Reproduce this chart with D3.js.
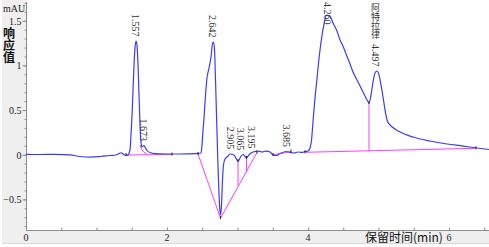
<!DOCTYPE html>
<html>
<head>
<meta charset="utf-8">
<script src="https://cdn.jsdelivr.net/npm/d3@7/dist/d3.min.js"></script>
<style>
  html, body { margin: 0; padding: 0; background: #fff; overflow: hidden; }
  svg { display: block; }
</style>
</head>
<body>
<svg id="chart" width="489" height="247"></svg>
<script>
// Chromatogram trace (retention time in min, response in mAU)
const traceTime = [
  0.000, 0.199, 0.411, 0.624, 0.766, 0.908, 1.050, 1.191, 1.277, 1.319, 1.348, 1.376, 1.418, 1.447,
  1.475, 1.489, 1.504, 1.518, 1.532, 1.546, 1.560, 1.574, 1.589, 1.603, 1.617, 1.631, 1.645, 1.660,
  1.674, 1.688, 1.716, 1.759, 1.830, 1.972, 2.184, 2.411, 2.482, 2.496, 2.511, 2.525, 2.546, 2.567,
  2.596, 2.624, 2.645, 2.660, 2.674, 2.688, 2.702, 2.716, 2.730, 2.745, 2.759, 2.773, 2.787, 2.801,
  2.823, 2.851, 2.894, 2.950, 3.007, 3.050, 3.078, 3.106, 3.128, 3.149, 3.191, 3.248, 3.291, 3.348,
  3.404, 3.461, 3.504, 3.546, 3.603, 3.688, 3.745, 3.801, 3.858, 3.915, 3.957, 4.000, 4.028, 4.050,
  4.064, 4.078, 4.099, 4.121, 4.142, 4.170, 4.199, 4.227, 4.262, 4.298, 4.326, 4.355, 4.411, 4.454,
  4.496, 4.539, 4.596, 4.638, 4.695, 4.738, 4.794, 4.837, 4.865, 4.894, 4.922, 4.950, 4.979, 5.007,
  5.035, 5.064, 5.092, 5.121, 5.163, 5.234, 5.305, 5.489, 5.730, 5.972, 6.199, 6.397, 6.567
];
const traceSignal = [
  0.004, 0.002, 0.004, -0.003, -0.020, -0.026, -0.020, -0.009, -0.003, 0.013, 0.022, 0.008, -0.009, -0.003,
  0.053, 0.220, 0.445, 0.725, 1.005, 1.195, 1.273, 1.228, 1.005, 0.669, 0.333, 0.142, 0.086, 0.097,
  0.103, 0.086, 0.047, 0.025, 0.013, 0.008, 0.008, 0.013, 0.019, 0.109, 0.275, 0.411, 0.669, 0.859,
  0.971, 1.094, 1.240, 1.262, 1.172, 0.837, 0.445, 0.053, -0.283, -0.563, -0.675, -0.563, -0.283, -0.115,
  -0.048, -0.026, 0.008, -0.003, -0.071, -0.015, 0.002, -0.020, -0.037, -0.015, 0.019, 0.036, 0.041, 0.030,
  0.041, 0.030, -0.003, -0.009, 0.013, 0.036, 0.025, 0.019, 0.030, 0.025, 0.036, 0.041, 0.075, 0.165,
  0.299, 0.445, 0.635, 0.803, 0.971, 1.172, 1.340, 1.463, 1.564, 1.553, 1.531, 1.475, 1.385, 1.284,
  1.217, 1.128, 1.016, 0.926, 0.837, 0.770, 0.680, 0.613, 0.579, 0.669, 0.814, 0.915, 0.937, 0.893,
  0.781, 0.646, 0.501, 0.389, 0.333, 0.288, 0.254, 0.198, 0.153, 0.120, 0.097, 0.075, 0.058
];

// Integration baselines / drop lines, each a list of [time, signal]
const baselineSegments = [
  [[1.418, -0.003], [2.071, 0.002]],
  [[1.617, 0.109], [1.638, 0.064], [1.667, 0.030], [1.716, 0.008]],
  [[2.440, 0.008], [2.759, -0.710]],
  [[2.759, -0.710], [3.277, 0.025]],
  [[3.007, -0.071], [3.007, -0.351]],
  [[3.128, -0.037], [3.128, -0.183]],
  [[3.504, -0.003], [3.759, 0.036]],
  [[3.957, 0.027], [6.383, 0.072]],
  [[4.865, 0.579], [4.865, 0.038]]
];

// Peak start/end markers
const markerPoints = [
  [1.418, -0.003], [2.071, 0.002], [2.440, 0.008], [2.759, -0.710], [3.007, -0.071],
  [3.128, -0.037], [3.277, 0.025], [3.504, -0.003], [3.759, 0.036], [3.957, 0.027],
  [4.865, 0.579], [6.383, 0.072]
];

// Peak labels: text, retention time, apex response
const peakLabels = ['1.557', '1.673', '2.642', '2.905', '3.065', '3.195', '3.685', '4.260', '4.497'];
const peakTimes = [1.557, 1.673, 2.645, 2.894, 3.043, 3.199, 3.688, 4.277, 4.957];
const peakApex = [1.273, 0.103, 1.262, 0.012, 0.000, 0.019, 0.036, 1.564, 0.937];

// Compound name shown above its peak label
const compoundName = '阿特拉律';
const compoundPeak = '4.497';

const yTicks = [-0.5, 0, 0.5, 1, 1.5];
const yTickLabels = ['\u22120.5', '0', '0.5', '1', '1.5'];
const xTicks = [0, 2, 4, 6];

const svg = d3.select('#chart');

const PLOT = { left: 26, right: 489, top: 0, bottom: 230 };
const BLUE = '#3a3aff';
const MAGENTA = '#ff3cff';
const AXIS = '#8c8c8c';
const SERIF = '"Liberation Serif", "DejaVu Serif", serif';
const CJK = '"Noto Sans CJK SC", sans-serif';

// Frame background
svg.append('rect')
  .attr('x', 2).attr('y', 0)
  .attr('width', 487).attr('height', 243)
  .attr('fill', '#efefef');

svg.append('line')
  .attr('x1', 2).attr('x2', 489)
  .attr('y1', 243.5).attr('y2', 243.5)
  .attr('stroke', '#d8d8d8');

svg.append('rect')
  .attr('x', PLOT.left).attr('y', PLOT.top)
  .attr('width', PLOT.right - PLOT.left)
  .attr('height', PLOT.bottom - PLOT.top)
  .attr('fill', '#fff');

const x = d3.scaleLinear()
  .domain([0, 6.567])
  .range([PLOT.left, PLOT.right]);

const y = d3.scaleLinear()
  .domain([-0.843, 1.732])
  .range([PLOT.bottom, PLOT.top]);

// Y axis: minor ticks every 0.1, major every 0.5
const yMinor = d3.range(-8, 18).map(i => i / 10);
const gy = svg.append('g')
  .attr('transform', `translate(${PLOT.left + 0.5},0)`)
  .call(d3.axisLeft(y).tickValues(yMinor).tickSize(2).tickFormat(''));
gy.select('.domain').remove();
gy.selectAll('line').attr('stroke', AXIS);

const gyMajor = svg.append('g')
  .attr('transform', `translate(${PLOT.left + 0.5},0)`)
  .call(d3.axisLeft(y).tickValues(yTicks).tickSize(4).tickFormat((d, i) => yTickLabels[i]));
gyMajor.select('.domain').remove();
gyMajor.selectAll('line').attr('stroke', AXIS);
gyMajor.selectAll('text')
  .attr('x', -5)
  .attr('dy', '0.35em')
  .attr('fill', '#222')
  .style('font-family', SERIF)
  .style('font-size', '10px');

svg.append('line')
  .attr('x1', PLOT.left + 0.5).attr('x2', PLOT.left + 0.5)
  .attr('y1', PLOT.top + 2).attr('y2', PLOT.bottom)
  .attr('stroke', AXIS);

// X axis: ticks every 0.5 pointing into the plot
const xMinor = d3.range(0, 14).map(i => i / 2);
const gx = svg.append('g')
  .attr('transform', `translate(0,${PLOT.bottom + 0.5})`)
  .call(d3.axisTop(x).tickValues(xMinor).tickSize(3).tickFormat(''));
gx.select('.domain').remove();
gx.selectAll('line').attr('stroke', AXIS);

svg.append('line')
  .attr('x1', PLOT.left).attr('x2', PLOT.right)
  .attr('y1', PLOT.bottom + 0.5).attr('y2', PLOT.bottom + 0.5)
  .attr('stroke', AXIS);

svg.selectAll('.xlabel')
  .data(xTicks)
  .enter()
  .append('text')
  .attr('class', 'xlabel')
  .attr('x', d => x(d))
  .attr('y', 241)
  .attr('text-anchor', 'middle')
  .attr('fill', '#222')
  .style('font-family', SERIF)
  .style('font-size', '10px')
  .text(d => d);

// Axis titles
svg.append('text')
  .attr('x', 3)
  .attr('y', 12)
  .attr('fill', '#222')
  .style('font-family', SERIF)
  .style('font-size', '10px')
  .text('mAU');

svg.append('text')
  .attr('x', 9)
  .attr('y', 27)
  .attr('fill', '#111')
  .style('writing-mode', 'vertical-rl')
  .style('font-family', CJK)
  .style('font-size', '12px')
  .style('font-weight', 'bold')
  .text('响应值');

svg.append('text')
  .attr('x', 365)
  .attr('y', 242)
  .attr('fill', '#111')
  .style('font-family', CJK)
  .style('font-size', '12px')
  .text('保留时间(min)');

// Integration lines
const segLine = d3.line()
  .x(d => x(d[0]))
  .y(d => y(d[1]));

svg.selectAll('.baseline')
  .data(baselineSegments)
  .enter()
  .append('path')
  .attr('class', 'baseline')
  .attr('d', segLine)
  .attr('fill', 'none')
  .attr('stroke', MAGENTA)
  .attr('stroke-width', 1);

// Trace
const trace = traceTime.map((t, i) => [t, traceSignal[i]]);
svg.append('path')
  .datum(trace)
  .attr('d', d3.line().x(d => x(d[0])).y(d => y(d[1])).curve(d3.curveMonotoneX))
  .attr('fill', 'none')
  .attr('stroke', BLUE)
  .attr('stroke-width', 1.2);

// Markers
svg.selectAll('.marker')
  .data(markerPoints)
  .enter()
  .append('line')
  .attr('class', 'marker')
  .attr('x1', d => x(d[0])).attr('x2', d => x(d[0]))
  .attr('y1', d => y(d[1]) - 2).attr('y2', d => y(d[1]) + 1)
  .attr('stroke', '#222')
  .attr('stroke-width', 1);

// Peak labels (vertical, reading downward)
const labelData = peakLabels.map((label, i) => ({ label, time: peakTimes[i], apex: peakApex[i] }));
const labels = svg.selectAll('.peaklabel')
  .data(labelData)
  .enter()
  .append('text')
  .attr('class', 'peaklabel')
  .attr('x', d => x(d.time))
  .attr('y', 0)
  .attr('fill', '#333')
  .style('writing-mode', 'vertical-rl')
  .style('font-family', SERIF)
  .style('font-size', '10px')
  .text(d => d.label);

labels.each(function(d) {
  const len = this.getBBox().height;
  let top = y(d.apex) - 4.5 - len;
  if (top < 2) top = 2;
  d.top = top;
  d3.select(this).attr('y', top);
});

// Compound name: stacked upright from the top of the plot, above its peak label
const named = labelData.find(d => d.label === compoundPeak);
svg.append('text')
  .attr('x', x(named.time))
  .attr('y', 3)
  .attr('fill', '#333')
  .style('writing-mode', 'vertical-rl')
  .style('font-family', CJK)
  .style('font-size', '9px')
  .text(compoundName);
</script>
</body>
</html>
